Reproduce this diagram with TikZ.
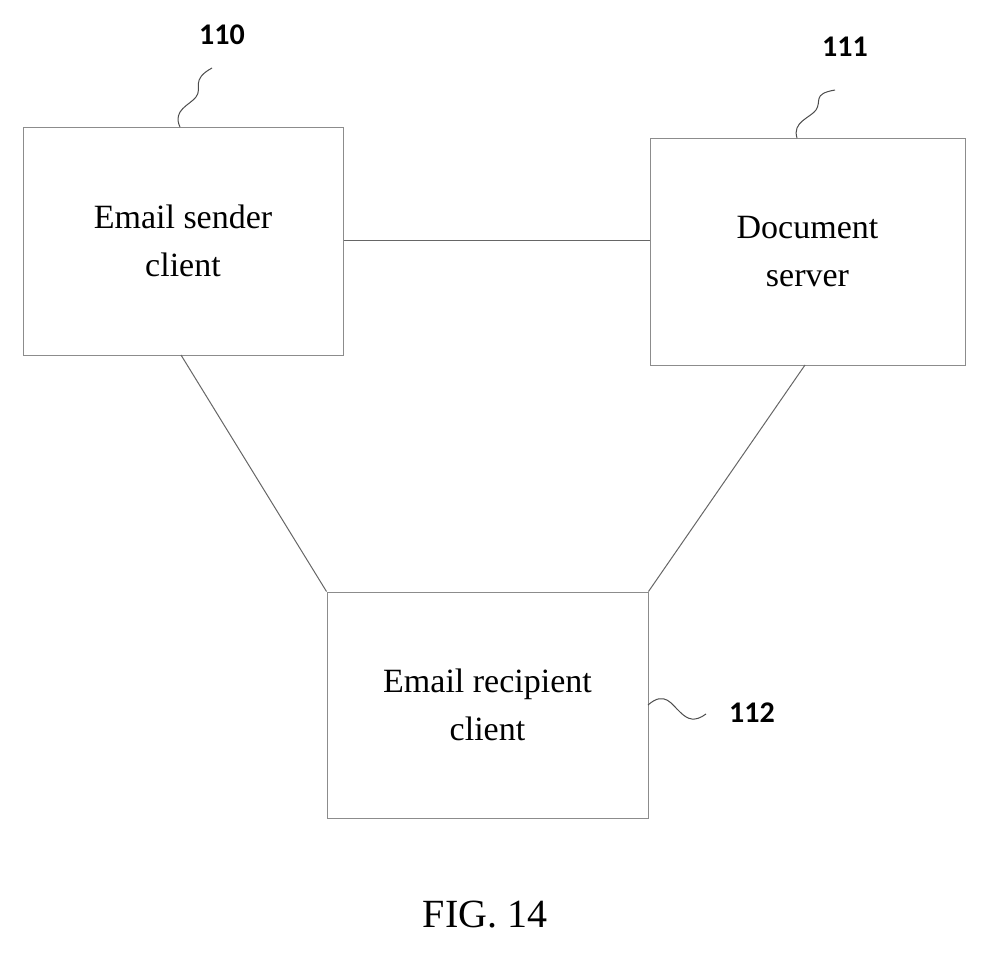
\documentclass[tikz,border=0pt]{standalone}
\usepackage{fontspec}
\setmainfont{Liberation Serif}
\newfontfamily\labelfont{Carlito}
\usetikzlibrary{positioning}
\begin{document}
\begin{tikzpicture}[x=1pt,y=-1pt,
    box/.style={draw=black!45, line width=1pt, minimum width=320pt, minimum height=228pt, inner sep=0pt, align=center, font=\fontsize{34}{48}\selectfont},
    link/.style={draw=black!60, line width=1pt},
    refnum/.style={font=\labelfont\bfseries\fontsize{30}{30}\selectfont},
    squig/.style={draw=black!70, line width=1pt}
]
\useasboundingbox (0,0) rectangle (986,953);
\node[box] (sender) at (183,241) {Email sender\\client};
\node[box, minimum width=315pt, minimum height=227pt] (server) at (807.5,251.5) {Document\\server};
\node[box, minimum width=321pt, minimum height=226pt] (recipient) at (487.5,705) {Email recipient\\client};
% connections
\draw[link] (sender.east |- 0,240) -- (server.west |- 0,240);
\draw[link] (181,355) -- (recipient.north west);
\draw[link] (805,365) -- (recipient.north east);
% reference numerals
\node[refnum] (n110) at (222,35) {110};
\node[refnum] (n111) at (845,47) {111};
\node[refnum] (n112) at (752,713) {112};
\draw[squig] (180,127) .. controls (172,110) and (190,105) .. (196,97) .. controls (203,88) and (190,80) .. (212,68);
\draw[squig] (797,138) .. controls (792,122) and (810,118) .. (816,110) .. controls (822,101) and (812,94) .. (835,90);
\draw[squig] (648,705) .. controls (665,690) and (672,705) .. (680,712) .. controls (688,720) and (695,722) .. (706,714);
\node[font=\fontsize{40}{40}\selectfont] (fig) at (485,915) {FIG. 14};
\end{tikzpicture}
\end{document}
